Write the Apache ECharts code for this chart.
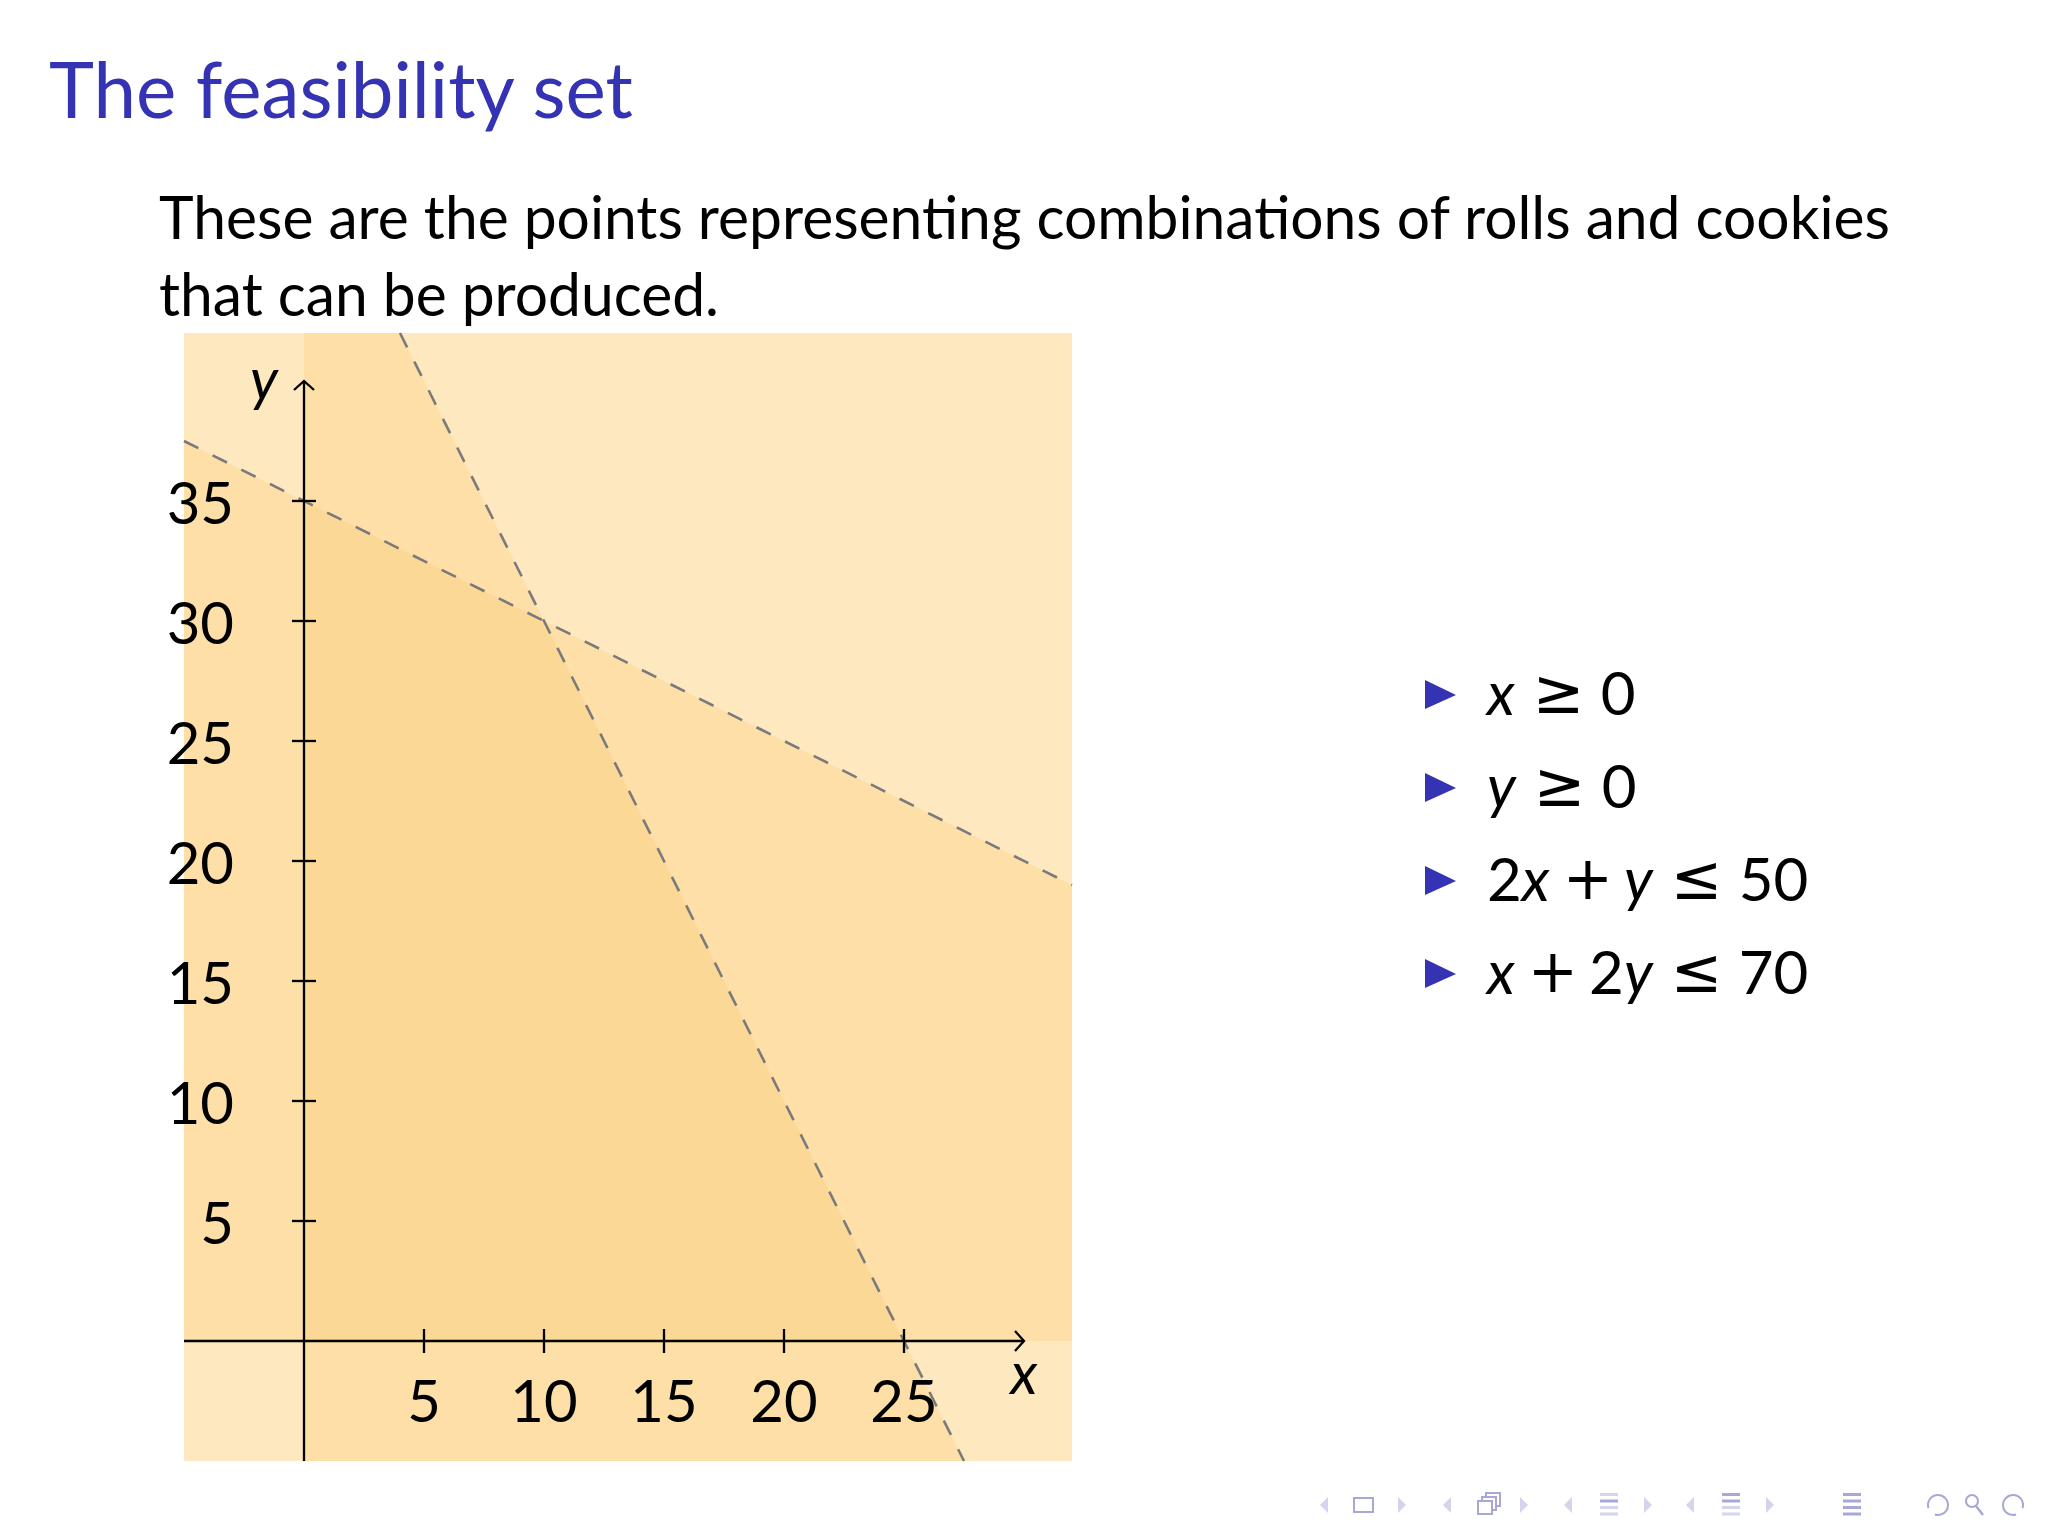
<!DOCTYPE html>
<html>
<head>
<meta charset="utf-8">
<title>The feasibility set</title>
<script src="https://cdn.jsdelivr.net/npm/echarts@6/dist/echarts.min.js"></script>
<style>
  html, body { margin: 0; padding: 0; background: #fff; }
  #chart { width: 2048px; height: 1536px; }
</style>
</head>
<body>
<div id="chart"></div>
<script>
// plot window, in data units
var xRange = [-5, 32];
var yRange = [-5, 42];
// where the axis arrows stop
var xAxisEnd = 30;
var yAxisEnd = 40;
var xTicks = [5, 10, 15, 20, 25];
var yTicks = [5, 10, 15, 20, 25, 30, 35];

// constraints a*x + b*y <= c  (x >= 0, y >= 0, 2x + y <= 50, x + 2y <= 70)
var consA = [-1, 0, 2, 1];
var consB = [0, -1, 1, 2];
var consC = [0, 0, 50, 70];
// only the two resource constraints get a dashed border
var dashedCons = [2, 3];
// right-hand list
var consText = [
  '{i|x}{o|≥}{n|0}',
  '{i|y}{o|≥}{n|0}',
  '{n|2}{i|x}{b|+}{i|y}{o|≤}{n|50}',
  '{i|x}{b|+}{n|2}{i|y}{o|≤}{n|70}'
];

var titleText = 'The feasibility set';
var bodyLines = [
  'These are the points representing combinations of rolls and cookies',
  'that can be produced.'
];

var blue = '#3333B3';
var lightFill = '#FDE8BF';
var midFill = '#FDDFA7';
var darkFill = '#FCD896';

var grid = { left: 184, top: 333, width: 888, height: 1128 };

// cut a polygon down to the half plane a*x + b*y <= c
function clip(poly, a, b, c) {
  var out = [];
  for (var i = 0; i < poly.length; i++) {
    var p = poly[i], q = poly[(i + 1) % poly.length];
    var fp = a * p[0] + b * p[1] - c;
    var fq = a * q[0] + b * q[1] - c;
    if (fp <= 0) out.push(p);
    if ((fp < 0 && fq > 0) || (fp > 0 && fq < 0)) {
      var t = fp / (fp - fq);
      out.push([p[0] + t * (q[0] - p[0]), p[1] + t * (q[1] - p[1])]);
    }
  }
  return out;
}

var box = [[xRange[0], yRange[0]], [xRange[1], yRange[0]], [xRange[1], yRange[1]], [xRange[0], yRange[1]]];

function clipBy(list) {
  var poly = box;
  list.forEach(function (k) { poly = clip(poly, consA[k], consB[k], consC[k]); });
  return poly;
}

// points meeting three of the four constraints are a bit darker, all four darker still
var regions = [];
for (var skip = 0; skip < consA.length; skip++) {
  var keep = [];
  for (var k = 0; k < consA.length; k++) if (k !== skip) keep.push(k);
  regions.push({ pts: clipBy(keep), color: midFill });
}
regions.push({ pts: clipBy([0, 1, 2, 3]), color: darkFill });

// where a boundary line a*x + b*y = c crosses the window
function boundary(k) {
  var a = consA[k], b = consB[k], c = consC[k], pts = [];
  [xRange[0], xRange[1]].forEach(function (x) {
    if (b !== 0) {
      var y = (c - a * x) / b;
      if (y >= yRange[0] && y <= yRange[1]) pts.push([x, y]);
    }
  });
  [yRange[0], yRange[1]].forEach(function (y) {
    if (a !== 0) {
      var x = (c - b * y) / a;
      if (x > xRange[0] && x < xRange[1]) pts.push([x, y]);
    }
  });
  pts.sort(function (p, q) { return p[0] - q[0]; });
  return pts;
}

var ctx = document.createElement('canvas').getContext('2d');
function textWidth(text, f) { ctx.font = f; return ctx.measureText(text).width; }

var titleSize = 77, bodySize = 60;
var titleScale = 586 / textWidth(titleText, titleSize + 'px Lato');
var bodyScale = 1732 / textWidth(bodyLines[0], bodySize + 'px Lato');

var chart = echarts.init(document.getElementById('chart'), null, { renderer: 'svg' });

var series = [];
series.push({
  type: 'custom',
  coordinateSystem: 'cartesian2d',
  silent: true,
  z: 1,
  data: regions.map(function (r, i) { return [r.pts[0][0], r.pts[0][1], i]; }),
  renderItem: function (params, api) {
    var r = regions[params.dataIndex];
    return {
      type: 'polygon',
      shape: { points: r.pts.map(function (p) { return api.coord(p); }) },
      style: { fill: r.color }
    };
  }
});

dashedCons.forEach(function (k) {
  series.push({
    type: 'line',
    data: boundary(k),
    symbol: 'none',
    silent: true,
    z: 3,
    lineStyle: { color: '#7a7a7a', width: 2.6, type: [16, 16] }
  });
});

series.push({
  type: 'custom',
  coordinateSystem: 'cartesian2d',
  silent: true,
  z: 5,
  data: [[0, 0]],
  renderItem: function (params, api) {
    var stroke = { stroke: '#000', lineWidth: 2.3, fill: null };
    var xs = api.coord([xRange[0], 0]), xe = api.coord([xAxisEnd, 0]);
    var ys = api.coord([0, yRange[0]]), ye = api.coord([0, yAxisEnd]);
    var kids = [
      { type: 'line', shape: { x1: xs[0], y1: xs[1], x2: xe[0], y2: xe[1] }, style: stroke },
      { type: 'line', shape: { x1: ys[0], y1: ys[1], x2: ye[0], y2: ye[1] }, style: stroke },
      { type: 'polyline', shape: { points: [[xe[0] - 9, xe[1] - 10], [xe[0], xe[1]], [xe[0] - 9, xe[1] + 10]] }, style: stroke },
      { type: 'polyline', shape: { points: [[ye[0] - 10, ye[1] + 9], [ye[0], ye[1]], [ye[0] + 10, ye[1] + 9]] }, style: stroke }
    ];
    xTicks.forEach(function (v) {
      var p = api.coord([v, 0]);
      kids.push({ type: 'line', shape: { x1: p[0], y1: p[1] - 12, x2: p[0], y2: p[1] + 12 }, style: stroke });
    });
    yTicks.forEach(function (v) {
      var p = api.coord([0, v]);
      kids.push({ type: 'line', shape: { x1: p[0] - 12, y1: p[1], x2: p[0] + 12, y2: p[1] }, style: stroke });
    });
    kids.push({ type: 'text', style: { text: 'x', x: xe[0], y: xe[1] + 30, align: 'center', verticalAlign: 'middle', font: 'italic 58px Lato', fill: '#000' } });
    kids.push({ type: 'text', style: { text: 'y', x: ye[0] - 40, y: ye[1] - 4, align: 'center', verticalAlign: 'middle', font: 'italic 58px Lato', fill: '#000' } });
    return { type: 'group', children: kids };
  }
});

// slide text, list and navigation symbols
var graphics = [];
graphics.push({
  type: 'text', x: 49, y: 118 - 0.387 * titleSize, scaleX: titleScale,
  style: { text: titleText, x: 0, y: 0, fill: blue, font: titleSize + 'px Lato', verticalAlign: 'middle' }
});
bodyLines.forEach(function (line, i) {
  graphics.push({
    type: 'text', x: 159, y: 239 + 77 * i - 0.387 * bodySize, scaleX: bodyScale,
    style: { text: line, x: 0, y: 0, fill: '#000', font: bodySize + 'px Lato', verticalAlign: 'middle' }
  });
});

var listBase = [715, 808, 901, 994];
consText.forEach(function (t, i) {
  var b = listBase[i];
  graphics.push({
    type: 'polygon',
    shape: { points: [[1425, b - 35], [1425, b - 6], [1456, b - 20]] },
    style: { fill: blue }
  });
  graphics.push({
    type: 'text', x: 1487, y: b - 0.387 * 60,
    style: {
      text: t, x: 0, y: 0, verticalAlign: 'middle', fill: '#000',
      rich: {
        i: { fontFamily: 'Lato', fontStyle: 'italic', fontSize: 60, lineHeight: 70 },
        n: { fontFamily: 'Lato', fontSize: 60, lineHeight: 70 },
        o: { fontFamily: 'DejaVu Sans', fontSize: 62, lineHeight: 70, padding: [0, 16, 0, 18] },
        b: { fontFamily: 'DejaVu Sans', fontSize: 60, lineHeight: 70, padding: [0, 11, 0, 13] }
      }
    }
  });
});

var navY = 1505, navArrow = '#D4D4EC', navIcon = '#A8A8D8';
function navTri(cx, dir) {
  var pts = dir < 0
    ? [[cx + 4, navY - 8], [cx + 4, navY + 8], [cx - 4, navY]]
    : [[cx - 4, navY - 8], [cx - 4, navY + 8], [cx + 4, navY]];
  return { type: 'polygon', shape: { points: pts }, style: { fill: navArrow } };
}
function navLines(cx, colors) {
  return colors.map(function (c, i) {
    return { type: 'rect', shape: { x: cx - 9, y: navY - 12 + i * 6.5, width: 18, height: 3 }, style: { fill: c } };
  });
}
var nav = [];
[[1324, -1], [1402, 1], [1447, -1], [1524, 1], [1568, -1], [1648, 1], [1690, -1], [1770, 1]].forEach(function (a) {
  nav.push(navTri(a[0], a[1]));
});
nav.push({ type: 'rect', shape: { x: 1354, y: 1498, width: 19, height: 14 }, style: { stroke: navIcon, lineWidth: 2, fill: null } });
[[1478, 1501], [1482, 1497], [1486, 1493]].reverse().forEach(function (p) {
  nav.push({ type: 'rect', shape: { x: p[0], y: p[1], width: 14, height: 13 }, style: { stroke: navIcon, lineWidth: 2, fill: '#fff' } });
});
nav = nav.concat(navLines(1609, ['#D4D4EC', navIcon, '#D4D4EC', '#D4D4EC']));
nav = nav.concat(navLines(1731, [navIcon, navIcon, '#D4D4EC', '#D4D4EC']));
nav = nav.concat(navLines(1852, [navIcon, navIcon, navIcon, navIcon]));
nav.push({ type: 'arc', shape: { cx: 1938, cy: navY, r: 10, startAngle: Math.PI * 0.9, endAngle: Math.PI * 0.6 }, style: { stroke: navIcon, lineWidth: 2, fill: null } });
nav.push({ type: 'circle', shape: { cx: 1972, cy: navY - 4, r: 6 }, style: { stroke: navIcon, lineWidth: 2, fill: null } });
nav.push({ type: 'line', shape: { x1: 1976, y1: navY + 1, x2: 1983, y2: navY + 10 }, style: { stroke: navIcon, lineWidth: 2.5 } });
nav.push({ type: 'arc', shape: { cx: 2013, cy: navY, r: 10, startAngle: Math.PI * 0.4, endAngle: Math.PI * 0.1 }, style: { stroke: navIcon, lineWidth: 2, fill: null } });
graphics = graphics.concat(nav);

// the axis lines come from the custom series; the library axes only carry
// the tick labels, shifted in from the grid edge onto the zero lines
var xAxisShift = grid.height * (0 - yRange[0]) / (yRange[1] - yRange[0]);
var yAxisShift = grid.width * (0 - xRange[0]) / (xRange[1] - xRange[0]);

var option = {
  backgroundColor: '#fff',
  animation: false,
  grid: {
    left: grid.left, top: grid.top, width: grid.width, height: grid.height,
    outerBoundsMode: 'none',
    show: true, backgroundColor: lightFill, borderWidth: 0
  },
  xAxis: {
    type: 'value', min: xRange[0], max: xRange[1], interval: 5,
    position: 'bottom', offset: -xAxisShift, z: 10,
    axisLine: { show: false, onZero: false },
    axisTick: { show: false },
    splitLine: { show: false },
    axisLabel: {
      fontFamily: 'Lato', fontSize: 58, color: '#000', margin: 29,
      hideOverlap: false, showMinLabel: true, showMaxLabel: true,
      formatter: function (v) { return xTicks.indexOf(v) >= 0 ? String(v) : ''; }
    }
  },
  yAxis: {
    type: 'value', min: yRange[0], max: yRange[1], interval: 5,
    position: 'left', offset: -yAxisShift, z: 10,
    axisLine: { show: false, onZero: false },
    axisTick: { show: false },
    splitLine: { show: false },
    axisLabel: {
      fontFamily: 'Lato', fontSize: 58, color: '#000', margin: 70,
      hideOverlap: false, showMinLabel: true, showMaxLabel: true,
      formatter: function (v) { return yTicks.indexOf(v) >= 0 ? String(v) : ''; }
    }
  },
  graphic: graphics,
  series: series
};

chart.setOption(option);
</script>
</body>
</html>
